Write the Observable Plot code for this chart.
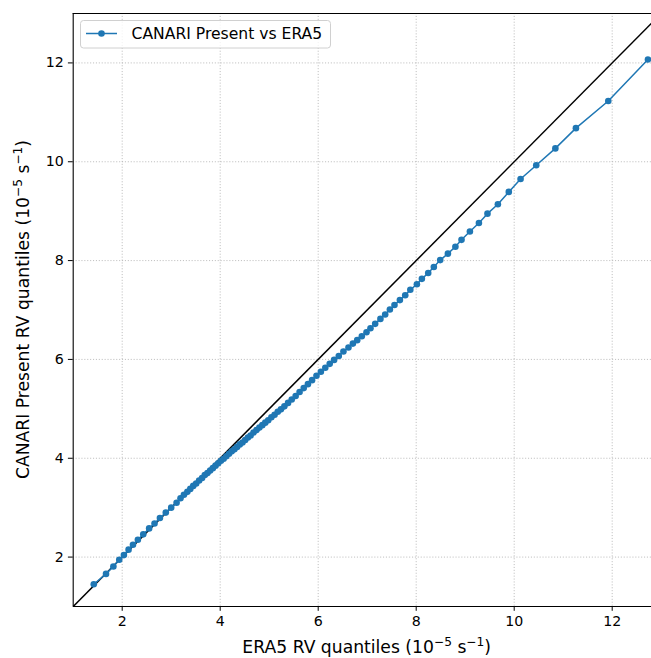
<!DOCTYPE html>
<html><head><meta charset="utf-8">
<script src="https://cdn.jsdelivr.net/npm/d3@7"></script>
<script src="https://cdn.jsdelivr.net/npm/@observablehq/plot@0.6"></script>
<style>
html,body{margin:0;padding:0;background:#fff;overflow:hidden;}
svg{display:block;}
</style></head><body><div id="chart"></div>
<script>
// ERA5 RV quantiles (x) and CANARI Present RV quantiles (y), units 1e-5 s^-1
const era5 = [1.42,1.67,1.82,1.94,2.035,2.13,2.22,2.32,2.43,2.55,2.66,2.77,2.89,3.00,3.11,
  3.19,3.26,3.33,3.39,3.45,3.51,3.57,3.63,3.685,3.74,3.795,3.85,3.905,3.96,4.015,4.07,4.125,4.18,4.235,4.29,
  4.345,4.40,4.455,4.51,4.565,4.62,4.68,4.74,4.80,4.86,4.92,4.98,5.045,5.11,5.175,5.24,5.31,5.385,5.46,5.54,
  5.62,5.705,5.79,5.875,5.965,6.055,6.145,6.235,6.325,6.42,6.515,
  6.618,6.708,6.796,6.89,6.986,7.067,7.163,7.27,7.367,7.463,7.557,7.667,7.776,7.88,8.014,8.116,8.245,8.36,
  8.49,8.647,8.80,8.925,9.096,9.28,9.455,9.667,9.89,10.13,10.45,10.84,11.26,11.92,12.73];
const canari = [1.45,1.66,1.81,1.945,2.04,2.15,2.25,2.35,2.46,2.58,2.68,2.79,2.90,3.00,3.10,
  3.19,3.26,3.32,3.38,3.44,3.49,3.55,3.60,3.66,3.70,3.75,3.80,3.85,3.90,3.95,3.99,4.04,4.09,4.14,4.18,
  4.23,4.28,4.32,4.37,4.42,4.46,4.52,4.57,4.62,4.67,4.72,4.77,4.83,4.88,4.94,4.99,5.05,5.12,5.19,5.26,
  5.34,5.42,5.50,5.58,5.67,5.75,5.83,5.91,5.99,6.07,6.16,
  6.24,6.32,6.39,6.47,6.55,6.63,6.72,6.82,6.91,7.01,7.10,7.20,7.30,7.41,7.52,7.63,7.75,7.87,
  8.01,8.14,8.28,8.42,8.59,8.76,8.95,9.14,9.39,9.65,9.93,10.27,10.68,11.23,12.07];
const xTicks = [2, 4, 6, 8, 10, 12];
const yTicks = [2, 4, 6, 8, 10, 12];
const axisLimits = [1, 13];
const seriesName = "CANARI Present vs ERA5";
const xLabelText = ["ERA5 RV quantiles (10", "\u22125", " s", "\u22121", ")"];
const yLabelText = ["CANARI Present RV quantiles (10", "\u22125", " s", "\u22121", ")"];

const blue = "#1f77b4";
const FONT = "DejaVu Sans, sans-serif";
const data = era5.map((x, i) => ({x, y: canari[i]}));
const diag = [{x1: axisLimits[0], y1: axisLimits[0], x2: axisLimits[1], y2: axisLimits[1]}];

const W = 651, H = 658;
const ML = 72.7, MT = 13, MB = 52;
const pxPerX = 49.0;
const R = 3.3;
const TICKFS = 14.2;

const chart = Plot.plot({
  width: W, height: H,
  marginLeft: ML, marginRight: 0, marginTop: MT, marginBottom: MB,
  style: {fontFamily: FONT, fontSize: TICKFS + "px", background: "#fff", color: "#000"},
  x: {domain: axisLimits, range: [ML, ML + pxPerX * (axisLimits[1] - axisLimits[0])]},
  y: {domain: axisLimits, range: [H - MB, MT]},
  marks: [
    Plot.gridX(xTicks, {stroke: "#b0b0b0", strokeOpacity: 1, strokeWidth: 0.8, strokeDasharray: "1.1,1.8"}),
    Plot.gridY(yTicks, {stroke: "#b0b0b0", strokeOpacity: 1, strokeWidth: 0.8, strokeDasharray: "1.1,1.8"}),
    Plot.link(diag, {x1: "x1", y1: "y1", x2: "x2", y2: "y2", stroke: "#000", strokeWidth: 1.5, clip: true}),
    Plot.line(data, {x: "x", y: "y", stroke: blue, strokeWidth: 1.5}),
    Plot.dot(data, {x: "x", y: "y", r: R, fill: blue, stroke: "none"}),
    Plot.ruleX([axisLimits[0]], {stroke: "#000", strokeWidth: 1.1}),
    Plot.ruleY([axisLimits[0]], {stroke: "#000", strokeWidth: 1.1}),
    Plot.ruleY([axisLimits[1]], {stroke: "#000", strokeWidth: 1.1}),
    Plot.axisX(xTicks, {tickSize: 4.8, tickPadding: 4.3, fontSize: TICKFS, label: null, tickFormat: d => String(d)}),
    Plot.axisY(yTicks, {tickSize: 4.8, tickPadding: 4.5, fontSize: TICKFS, label: null, tickFormat: d => String(d)})
  ]
});
document.getElementById("chart").appendChild(chart);

const svg = d3.select(chart);
function addLabel(parts, x, y, rotate) {
  const t = svg.append("text")
    .attr("font-family", FONT).attr("font-size", 17.2).attr("fill", "#000")
    .attr("text-anchor", "middle")
    .attr("transform", `translate(${x},${y})` + (rotate ? " rotate(-90)" : ""));
  parts.forEach((p, i) => {
    const ts = t.append("tspan").text(p);
    if (i === 1 || i === 3) ts.attr("font-size", 12.2).attr("dy", -6.8);
    else if (i > 0) ts.attr("dy", 6.8);
  });
}
const xs = (v) => ML + pxPerX * (v - axisLimits[0]);
addLabel(xLabelText, xs((axisLimits[0] + axisLimits[1]) / 2), 652.5, false);
addLabel(yLabelText, 29, (MT + H - MB) / 2, true);

// legend
const lg = svg.append("g");
lg.append("rect").attr("x", 80.5).attr("y", 20.5).attr("width", 250).attr("height", 27.5)
  .attr("rx", 3).attr("fill", "#fff").attr("fill-opacity", 0.8).attr("stroke", "#d0d0d0").attr("stroke-width", 1);
lg.append("line").attr("x1", 86).attr("x2", 117).attr("y1", 33.5).attr("y2", 33.5)
  .attr("stroke", blue).attr("stroke-width", 1.5);
lg.append("circle").attr("cx", 101.5).attr("cy", 33.5).attr("r", R).attr("fill", blue);
lg.append("text").attr("x", 131.5).attr("y", 39.3).attr("font-family", FONT).attr("font-size", 15.6)
  .attr("text-anchor", "start").attr("fill", "#000").text(seriesName);
</script></body></html>
